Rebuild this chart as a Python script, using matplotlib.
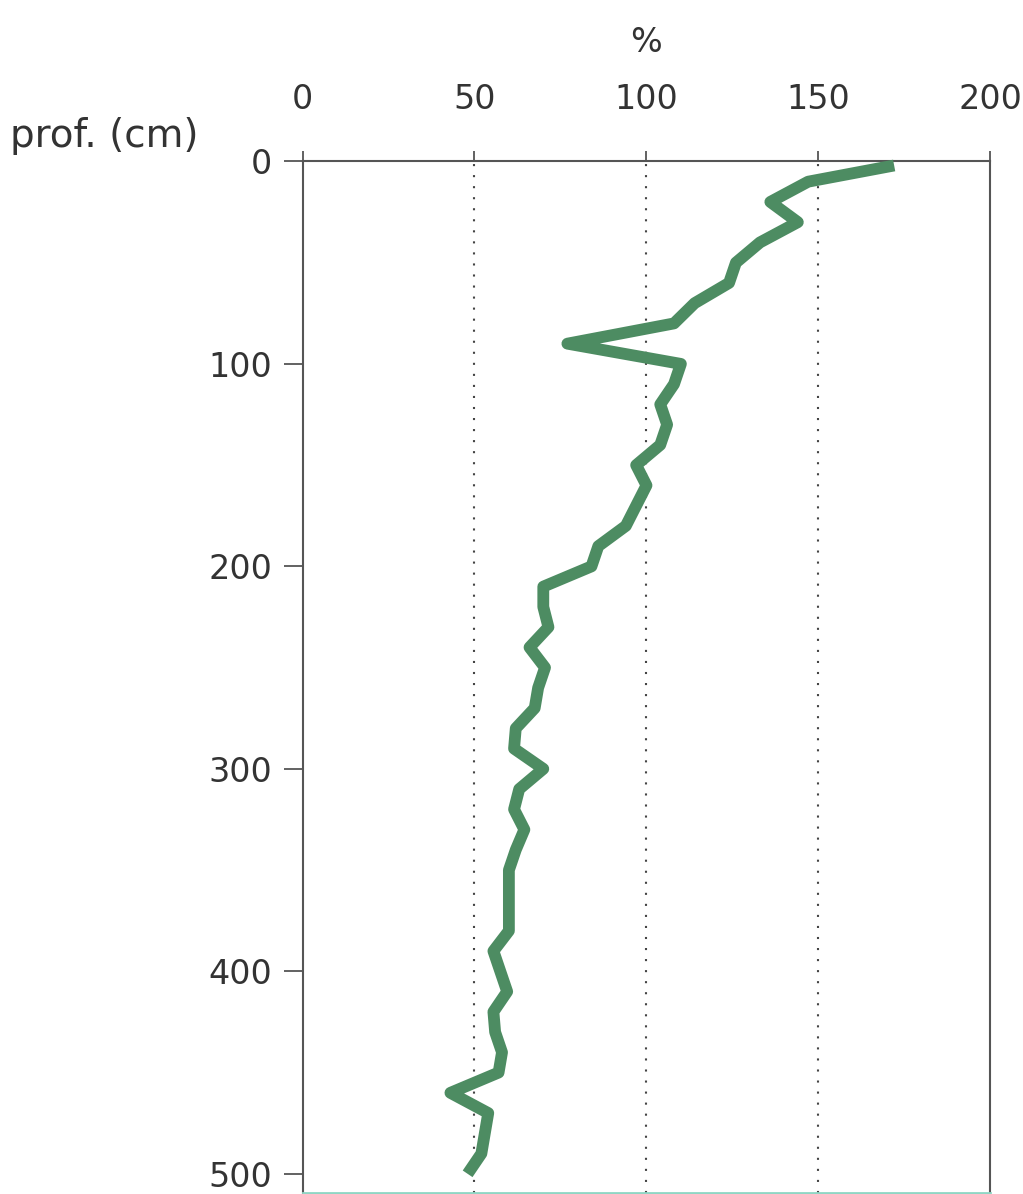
"""Depth profile (% vs. depth) redrawn from a scanned figure."""

import matplotlib

matplotlib.use("Agg")
import matplotlib.pyplot as plt


DEPTH_CM = [
    2, 10, 20, 30, 40, 50, 60, 70, 80, 90,
    100, 110, 120, 130, 140, 150, 160, 170, 180, 190,
    200, 210, 220, 230, 240, 250, 260, 270, 280, 290,
    300, 310, 320, 330, 340, 350, 360, 370, 380, 390,
    400, 410, 420, 430, 440, 450, 460, 470, 480, 490, 500,
]
PERCENT = [
    172, 147, 136, 144, 133, 126, 124, 114, 108, 77,
    110, 108, 104, 106, 104, 97, 100, 97, 94, 86,
    84, 70, 70, 71.5, 66, 70.5, 68.5, 67.5, 62, 61.5,
    70, 63, 61.5, 64.5, 62, 60, 60, 60, 60, 55.5,
    57.5, 59.5, 55.5, 56, 58, 57, 43, 54, 53, 52, 48,
]
X_TICKS = [0, 50, 100, 150, 200]
Y_TICKS = [0, 100, 200, 300, 400, 500]
GRID_X = [50, 100, 150]

LINE_COLOR = "#4d8c62"
AXIS_COLOR = "#555555"
TEXT_COLOR = "#333333"


def main() -> None:
    plt.rcParams.update({"font.family": "DejaVu Sans"})
    fig = plt.figure(figsize=(10.23, 11.94), dpi=100)
    ax = fig.add_axes([0.2957, 0.0008, 0.6725, 0.864])

    for gx in GRID_X:
        ax.axvline(gx, color="#444444", lw=1.5, ls=(0, (1, 4.3)), zorder=1)

    ax.plot(PERCENT, DEPTH_CM, color=LINE_COLOR, lw=8.5, solid_joinstyle="round",
            solid_capstyle="butt", zorder=3, clip_on=False)

    ax.set_xlim(0, 200)
    ax.set_ylim(509.5, 0)
    ax.xaxis.tick_top()
    ax.xaxis.set_label_position("top")
    ax.set_xticks(X_TICKS)
    ax.set_yticks(Y_TICKS)
    ax.tick_params(axis="x", direction="out", length=7, width=1.3, pad=26,
                   labelsize=24, colors=AXIS_COLOR, labelcolor=TEXT_COLOR)
    ax.tick_params(axis="y", direction="out", length=14, width=1.3, pad=8,
                   labelsize=24, colors=AXIS_COLOR, labelcolor=TEXT_COLOR)
    ax.set_xlabel("%", fontsize=24, color=TEXT_COLOR, labelpad=22)

    for side in ("left", "top", "right"):
        ax.spines[side].set_color(AXIS_COLOR)
        ax.spines[side].set_linewidth(1.5)
    ax.spines["bottom"].set_color("#8fd6c4")
    ax.spines["bottom"].set_linewidth(2)

    fig.text(10 / 1023, 1 - 136 / 1194, "prof. (cm)", fontsize=28, color=TEXT_COLOR,
             ha="left", va="center")

    fig.savefig("out.png", dpi=100)
    plt.close(fig)


if __name__ == "__main__":
    main()
